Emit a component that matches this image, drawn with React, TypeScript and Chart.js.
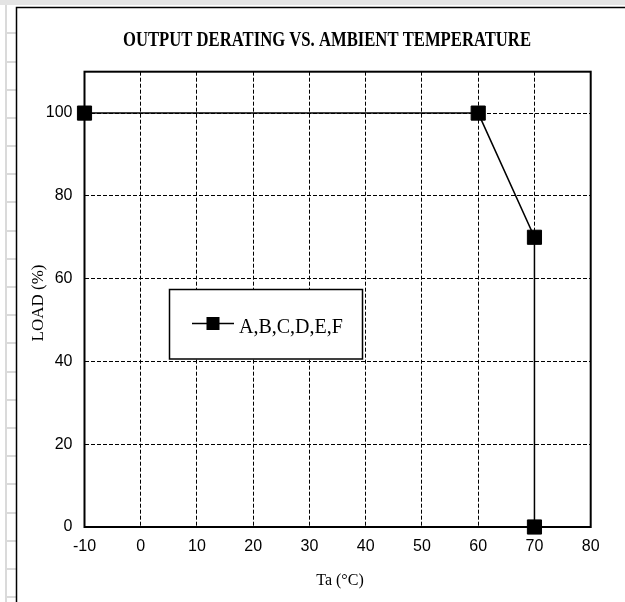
import React, { useEffect, useRef } from "react";
import { Chart, registerables } from "chart.js";

Chart.register(...registerables);

const temps = [-10, 60, 70, 70];
const loads = [100, 100, 70, 0];
const seriesLabel = "A,B,C,D,E,F";
const chartTitle = "OUTPUT DERATING VS. AMBIENT TEMPERATURE";
const xTitle = "Ta (°C)";
const yTitle = "LOAD (%)";
const xMin = -10;
const xMax = 80;
const xStep = 10;
const yMin = 0;
const yMax = 110;
const yStep = 20;
const yLastTick = 100;

const W = 625;
const H = 602;
const AREA = { left: 84.5, right: 590.7, top: 71.7, bottom: 527 };

const decor = {
  id: "decor",
  beforeDraw(chart: any) {
    const ctx = chart.ctx;
    ctx.save();
    ctx.fillStyle = "#fff";
    ctx.fillRect(0, 0, W, H);
    // spreadsheet strip
    ctx.fillStyle = "#e4e4e4";
    ctx.fillRect(0, 0, W, 5);
    ctx.fillStyle = "#dadada";
    ctx.fillRect(5, 5, 2, H - 5);
    for (let y = 33.3; y < H; y += 28.2) ctx.fillRect(7, Math.round(y) - 1, 9, 2);
    // frame
    ctx.strokeStyle = "#000";
    ctx.lineWidth = 1.5;
    ctx.beginPath();
    ctx.moveTo(16.5, H);
    ctx.lineTo(16.5, 7.5);
    ctx.lineTo(W, 7.5);
    ctx.stroke();
    // title
    ctx.fillStyle = "#000";
    ctx.font = 'bold 20px "Liberation Serif"';
    ctx.textAlign = "center";
    ctx.textBaseline = "alphabetic";
    const tw = ctx.measureText(chartTitle).width;
    ctx.save();
    ctx.translate(327, 46);
    ctx.scale(408 / tw, 1);
    ctx.fillText(chartTitle, 0, 0);
    ctx.restore();
    // axis titles
    ctx.font = '16px "Liberation Serif"';
    ctx.textBaseline = "middle";
    ctx.fillText(xTitle, 340, 581);
    ctx.save();
    ctx.translate(39, 303);
    ctx.rotate(-Math.PI / 2);
    ctx.font = '17px "Liberation Serif"';
    ctx.fillText(yTitle, 0, 0);
    ctx.restore();
    ctx.restore();
  },
  beforeDatasetsDraw(chart: any) {
    const { ctx, chartArea: a } = chart;
    ctx.save();
    ctx.strokeStyle = "#000";
    ctx.lineWidth = 2;
    ctx.strokeRect(a.left, a.top, a.right - a.left, a.bottom - a.top);
    ctx.restore();
  },
  afterDraw(chart: any) {
    const ctx = chart.ctx;
    const ds = chart.data.datasets[0];
    ctx.save();
    ctx.fillStyle = "#fff";
    ctx.fillRect(169.5, 289.5, 193, 69.5);
    ctx.strokeStyle = "#000";
    ctx.lineWidth = 1.5;
    ctx.strokeRect(169.5, 289.5, 193, 69.5);
    ctx.beginPath();
    ctx.moveTo(192, 323.5);
    ctx.lineTo(234, 323.5);
    ctx.stroke();
    ctx.fillStyle = "#000";
    ctx.fillRect(213 - 6.5, 323.5 - 6.5, 13, 13);
    ctx.font = '20px "Liberation Serif"';
    ctx.textAlign = "left";
    ctx.textBaseline = "alphabetic";
    ctx.fillText(ds.label, 239, 332.7);
    ctx.restore();
  },
};

export default function App() {
  const ref = useRef<HTMLCanvasElement>(null);
  useEffect(() => {
    document.body.style.margin = "0";
    const chart = new Chart(ref.current!, {
      type: "line",
      data: {
        datasets: [
          {
            label: seriesLabel,
            data: temps.map((x, i) => ({ x, y: loads[i] })),
            borderColor: "#000",
            backgroundColor: "#000",
            borderWidth: 1.5,
            pointStyle: "rect",
            pointRadius: 10,
            pointHoverRadius: 10,
            pointBorderWidth: 1,
            pointBackgroundColor: "#000",
            pointBorderColor: "#000",
            tension: 0,
            clip: false,
          },
        ],
      },
      options: {
        animation: false,
        responsive: false,
        devicePixelRatio: 1,
        events: [],
        layout: {
          padding: { left: 0, top: AREA.top, right: W - AREA.right, bottom: 0 },
        },
        plugins: {
          legend: { display: false },
          title: { display: false },
          tooltip: { enabled: false },
        },
        scales: {
          x: {
            type: "linear",
            min: xMin,
            max: xMax,
            border: { display: false, dash: [4, 2] },
            grid: { color: "#000", lineWidth: 1, drawTicks: false },
            ticks: {
              stepSize: xStep,
              padding: 10,
              color: "#000",
              font: { family: '"Liberation Sans"', size: 16 },
            },
            afterFit(scale: any) {
              scale.height = H - AREA.bottom;
            },
          },
          y: {
            type: "linear",
            min: yMin,
            max: yMax,
            border: { display: false, dash: [4, 2] },
            grid: { color: "#000", lineWidth: 1, drawTicks: false },
            ticks: {
              stepSize: yStep,
              padding: 12,
              color: "#000",
              font: { family: '"Liberation Sans"', size: 16 },
            },
            afterBuildTicks(scale: any) {
              scale.ticks = scale.ticks.filter((t: any) => t.value <= yLastTick);
            },
            afterFit(scale: any) {
              scale.width = AREA.left;
            },
          },
        },
      } as any,
      plugins: [decor],
    });
    return () => chart.destroy();
  }, []);
  return <canvas ref={ref} width={W} height={H} style={{ display: "block", width: W, height: H }} />;
}
